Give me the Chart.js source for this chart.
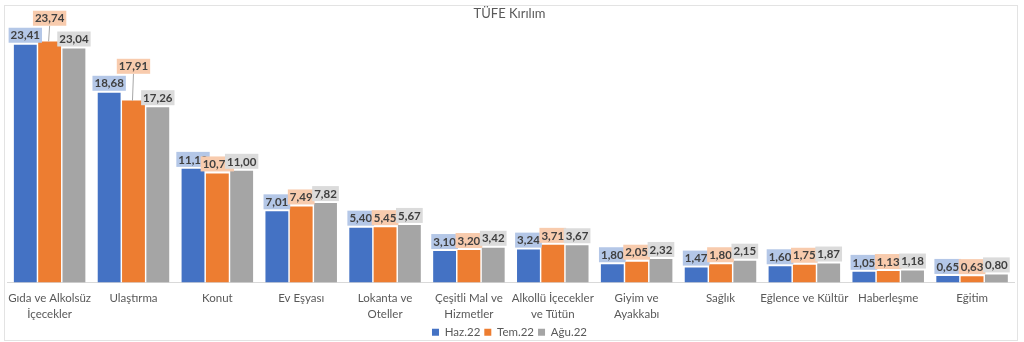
<!DOCTYPE html>
<html>
<head>
<meta charset="utf-8">
<script src="https://cdn.jsdelivr.net/npm/chart.js@4"></script>
<style>
  html, body { margin: 0; padding: 0; background: #fff; }
  #wrap { position: relative; width: 1024px; height: 342px; }
  #frame { position: absolute; left: 4px; top: 5px; width: 1012px; height: 334px;
           border: 1px solid #e3e3e3; pointer-events: none; }
</style>
</head>
<body>
<div id="wrap">
  <canvas id="tufeChart" width="1024" height="342"></canvas>
  <div id="frame"></div>
</div>
<script>
'use strict'
var categories = [
    ['Gıda ve Alkolsüz', 'İçecekler'],
    'Ulaştırma',
    'Konut',
    'Ev Eşyası',
    ['Lokanta ve', 'Oteller'],
    ['Çeşitli Mal ve', 'Hizmetler'],
    ['Alkollü İçecekler', 've Tütün'],
    ['Giyim ve', 'Ayakkabı'],
    'Sağlık',
    'Eğlence ve Kültür',
    'Haberleşme',
    'Eğitim'
];
var haz22 = [23.41, 18.68, 11.19, 7.01, 5.40, 3.10, 3.24, 1.80, 1.47, 1.60, 1.05, 0.65];
var tem22 = [23.74, 17.91, 10.74, 7.49, 5.45, 3.20, 3.71, 2.05, 1.80, 1.75, 1.13, 0.63];
var agu22 = [23.04, 17.26, 11.00, 7.82, 5.67, 3.42, 3.67, 2.32, 2.15, 1.87, 1.18, 0.80];
var seriesNames = ['Haz.22', 'Tem.22', 'Ağu.22'];

// labels that Excel pulled up with a leader line: [dataset, index]
var calloutLabels = [[1, 0], [1, 1]];

var barColors = ['#4472c4', '#ed7d31', '#a5a5a5'];
var labelBoxColors = ['#b4c7e7', '#f8cbad', '#dbdbdb'];

Chart.defaults.font.family = 'Lato, "Open Sans", sans-serif';
Chart.defaults.color = '#595959';

var valueLabels = {
    id: 'valueLabels',
    afterDatasetsDraw: function (chart) {
        var ctx = chart.ctx;
        ctx.save();
        ctx.font = 'bold 11.5px Lato, "Open Sans", sans-serif';
        ctx.textAlign = 'center';
        ctx.textBaseline = 'middle';
        var boxH = 15;
        var n = chart.data.labels.length;
        for (var j = 0; j < n; j++) {
            var prevTop = null;
            chart.data.datasets.forEach(function (ds, i) {
                var bar = chart.getDatasetMeta(i).data[j];
                var txt = ds.data[j].toFixed(2).replace('.', ',');
                var w = ctx.measureText(txt).width + 4;
                var bottom = bar.y - 2;
                var isCallout = calloutLabels.some(function (c) { return c[0] === i && c[1] === j; });
                if (isCallout && prevTop !== null) {
                    bottom = Math.min(bottom, prevTop - 2);
                    ctx.strokeStyle = '#a6a6a6';
                    ctx.lineWidth = 1;
                    ctx.beginPath();
                    ctx.moveTo(bar.x, bottom);
                    ctx.lineTo(bar.x - 1, bar.y);
                    ctx.stroke();
                }
                var top = bottom - boxH;
                ctx.fillStyle = labelBoxColors[i];
                ctx.fillRect(bar.x - w / 2, top, w, boxH);
                ctx.fillStyle = '#404040';
                ctx.fillText(txt, bar.x, top + boxH / 2 + 0.5);
                prevTop = top;
            });
        }
        ctx.restore();
    }
};

// the default legend box is a bit taller than Excel's, trim it
var legendTrim = {
    id: 'legendTrim',
    beforeInit: function (chart) {
        var fit = chart.legend.fit;
        chart.legend.fit = function () {
            fit.call(this);
            this.height -= 6;
        };
    }
};

var tufeChart = new Chart(document.getElementById('tufeChart'), {
    type: 'bar',
    data: {
        labels: categories,
        datasets: [
            { label: seriesNames[0], data: haz22, backgroundColor: barColors[0] },
            { label: seriesNames[1], data: tem22, backgroundColor: barColors[1] },
            { label: seriesNames[2], data: agu22, backgroundColor: barColors[2] }
        ]
    },
    options: {
        responsive: false,
        animation: false,
        categoryPercentage: 0.87,
        barPercentage: 0.94,
        layout: { padding: { left: 5, right: 10, top: 0, bottom: 0 } },
        plugins: {
            title: {
                display: true,
                text: 'TÜFE Kırılım',
                font: { size: 13, weight: 'normal' },
                color: '#595959',
                padding: { top: 6, bottom: 7 }
            },
            legend: {
                position: 'bottom',
                labels: {
                    boxWidth: 7,
                    boxHeight: 7,
                    padding: 4,
                    font: { size: 11.5 },
                    color: '#595959'
                }
            },
            tooltip: { enabled: false }
        },
        scales: {
            x: {
                grid: { display: false, drawTicks: false },
                border: { display: true, color: '#d9d9d9' },
                afterFit: function (scale) { scale.height -= 8; },
                ticks: {
                    padding: 8,
                    maxRotation: 0,
                    autoSkip: false,
                    font: { size: 11.5, lineHeight: 1.39 },
                    color: '#595959'
                }
            },
            y: {
                display: false,
                min: 0,
                max: 25
            }
        }
    },
    plugins: [valueLabels, legendTrim]
});
</script>
</body>
</html>
